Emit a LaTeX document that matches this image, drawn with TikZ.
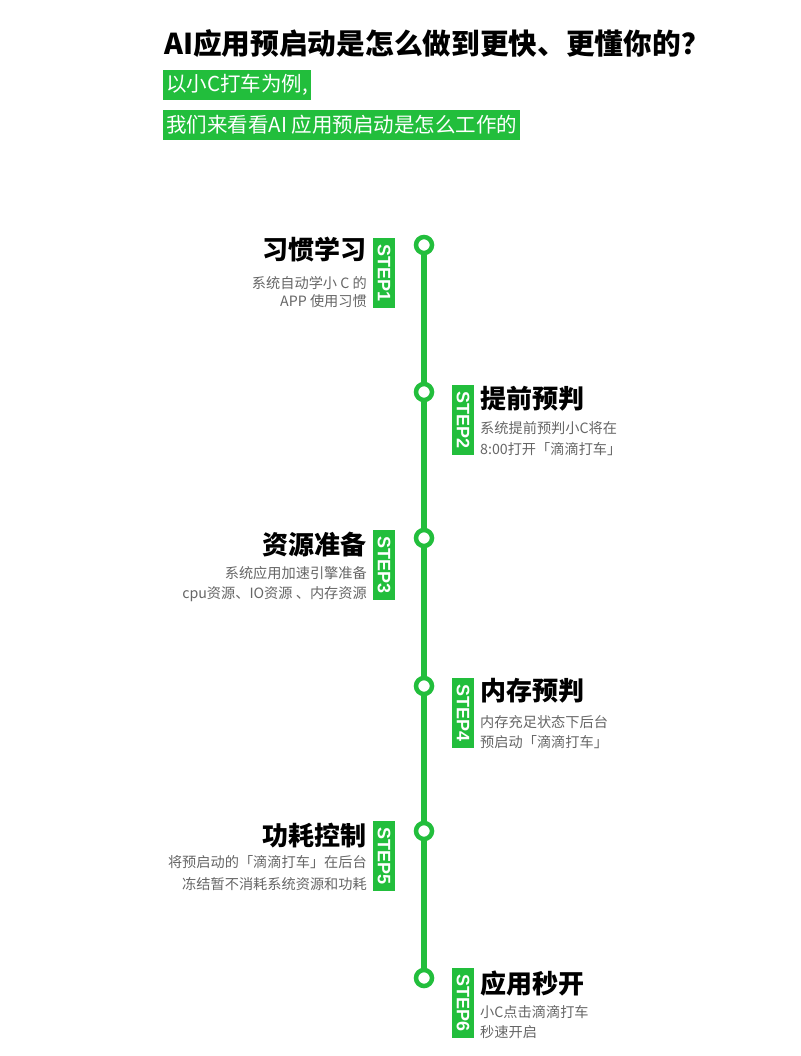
\documentclass[tikz,border=0pt]{standalone}
\usepackage{fontspec}
\setmainfont{Noto Sans CJK SC}
\newfontfamily\stepfont{Liberation Sans}
\definecolor{gr}{HTML}{22BE3C}
\definecolor{subg}{HTML}{666666}
\begin{document}
\begin{tikzpicture}[x=1pt,y=-1pt,
 maintitle/.style={font=\fontsize{28.7}{30}\selectfont\bfseries, anchor=base west, inner sep=0},
 hl/.style={fill=gr, text=white, font=\fontsize{20.5}{22}\selectfont, anchor=west, inner xsep=3, inner ysep=0, minimum height=30},
 tl/.style={gr, line width=6},
 dot/.style={circle, draw=gr, line width=4.5, fill=white, minimum size=16, inner sep=0},
 stepbox/.style={fill=gr, text=white, rotate=-90, font=\stepfont\bfseries\fontsize{18}{18}\selectfont, minimum width=70, minimum height=22, inner sep=0},
 ttl/.style={font=\fontsize{26}{28}\selectfont\bfseries, inner sep=0},
 sub/.style={font=\fontsize{14.2}{16}\selectfont, text=subg, inner sep=0},
 lt/.style={anchor=base east},
 rt/.style={anchor=base west},
]
\useasboundingbox[fill=white] (0,0) rectangle (800,1056);
% header
\node[maintitle] (head) at (164,55) {AI应用预启动是怎么做到更快、更懂你的？};
\node[hl] (h1) at (163,85) {以小C打车为例,};
\node[hl] (h2) at (163,125) {我们来看看AI 应用预启动是怎么工作的};
% timeline
\coordinate (p1) at (424,245);
\coordinate (p2) at (424,392);
\coordinate (p3) at (424,538);
\coordinate (p4) at (424,686);
\coordinate (p5) at (424,831);
\coordinate (p6) at (424,978);
\draw[tl] (p1) -- (p6);
\foreach \i in {1,...,6}{\node[dot] (c\i) at (p\i) {};}
% step 1
\node[stepbox] (s1) at (384,273) {STEP1};
\node[ttl,lt] (t1) at (367,260) {习惯学习};
\node[sub,lt] (a1) at (367,288) {系统自动学小 C 的};
\node[sub,lt] (b1) at (367,306) {APP 使用习惯};
% step 2
\node[stepbox] (s2) at (463,420) {STEP2};
\node[ttl,rt] (t2) at (480,408) {提前预判};
\node[sub,rt] (a2) at (480,433) {系统提前预判小C将在};
\node[sub,rt] (b2) at (480,454) {8:00打开「滴滴打车」};
% step 3
\node[stepbox] (s3) at (384,565) {STEP3};
\node[ttl,lt] (t3) at (367,554) {资源准备};
\node[sub,lt] (a3) at (367,578) {系统应用加速引擎准备};
\node[sub,lt] (b3) at (367,598) {cpu资源、IO资源 、内存资源};
% step 4
\node[stepbox] (s4) at (463,713) {STEP4};
\node[ttl,rt] (t4) at (480,700) {内存预判};
\node[sub,rt] (a4) at (480,727) {内存充足状态下后台};
\node[sub,rt] (b4) at (480,747) {预启动「滴滴打车」};
% step 5
\node[stepbox] (s5) at (384,856) {STEP5};
\node[ttl,lt] (t5) at (367,845) {功耗控制};
\node[sub,lt] (a5) at (367,867) {将预启动的「滴滴打车」在后台};
\node[sub,lt] (b5) at (367,889) {冻结暂不消耗系统资源和功耗};
% step 6
\node[stepbox] (s6) at (463,1003) {STEP6};
\node[ttl,rt] (t6) at (480,993) {应用秒开};
\node[sub,rt] (a6) at (480,1017) {小C点击滴滴打车};
\node[sub,rt] (b6) at (480,1037) {秒速开启};
\end{tikzpicture}
\end{document}
